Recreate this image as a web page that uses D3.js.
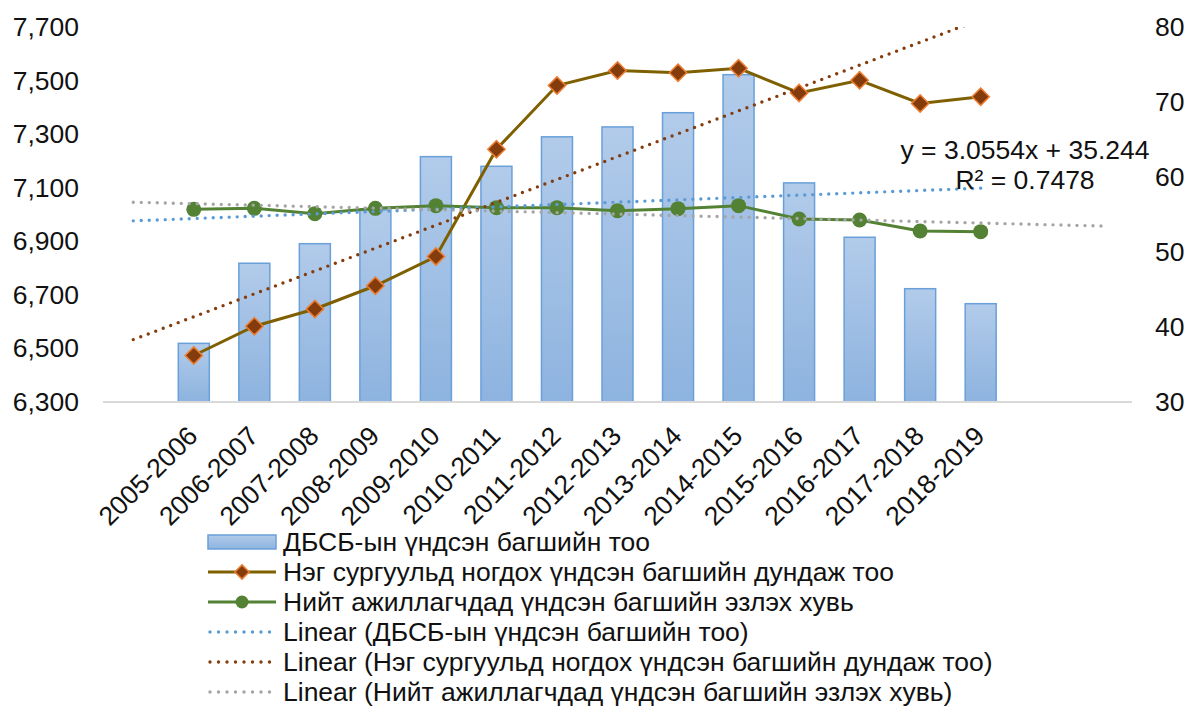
<!DOCTYPE html>
<html>
<head>
<meta charset="utf-8">
<script src="https://cdn.jsdelivr.net/npm/d3@7"></script>
<style>
  body { margin: 0; background: #fff; }
  text { font-family: "Liberation Sans", Arial, sans-serif; fill: #111; }
</style>
</head>
<body>
<svg width="1187" height="706"></svg>
<script>
// Data
var categories = ["2005-2006","2006-2007","2007-2008","2008-2009","2009-2010","2010-2011","2011-2012",
                  "2012-2013","2013-2014","2014-2015","2015-2016","2016-2017","2017-2018","2018-2019"];
var teachers = [6519, 6818, 6891, 7017, 7216, 7180, 7290, 7327, 7380, 7522, 7118, 6915, 6723, 6667];
var perSchool = [36.2, 40.1, 42.4, 45.5, 49.4, 63.7, 72.2, 74.2, 73.9, 74.5, 71.2, 72.9, 69.8, 70.7];
var share = [55.69, 55.82, 55.11, 55.82, 56.18, 55.91, 55.91, 55.51, 55.78, 56.18, 54.4, 54.27, 52.8, 52.71];
var leftTicks = [6300, 6500, 6700, 6900, 7100, 7300, 7500, 7700];
var rightTicks = [30, 40, 50, 60, 70, 80];
var legendLabels = [
  "ДБСБ-ын үндсэн багшийн тоо",
  "Нэг сургуульд ногдох үндсэн багшийн дундаж тоо",
  "Нийт ажиллагчдад үндсэн багшийн эзлэх хувь",
  "Linear (ДБСБ-ын үндсэн багшийн тоо)",
  "Linear (Нэг сургуульд ногдох үндсэн багшийн дундаж тоо)",
  "Linear (Нийт ажиллагчдад үндсэн багшийн эзлэх хувь)"
];
var equationLines = ["y = 3.0554x + 35.244", "R² = 0.7478"];

var svg = d3.select("svg");
var pLeft = 103, pRight = 1132, pTop = 27, pBottom = 402;
var nSlots = 17; // one empty slot before, two after the data

// Scales: slot 0 is empty, data sits in slots 1..14
var x = d3.scaleBand()
  .domain(d3.range(nSlots))
  .range([pLeft, pRight]);
var cx = function(slot){ return x(slot) + x.bandwidth()/2 };

var yL = d3.scaleLinear().domain([6300, 7700]).range([pBottom, pTop]);
var yR = d3.scaleLinear().domain([30, 80]).range([pBottom, pTop]);

// Gradient for bars
var defs = svg.append("defs");
var grad = defs.append("linearGradient").attr("id", "barGrad")
  .attr("x1", 0).attr("y1", 0).attr("x2", 0).attr("y2", 1);
grad.append("stop").attr("offset", "0%").attr("stop-color", "#b2cbea");
grad.append("stop").attr("offset", "100%").attr("stop-color", "#8db3df");

defs.append("clipPath").attr("id", "plotClip")
  .append("rect").attr("x", pLeft).attr("y", pTop).attr("width", pRight - pLeft).attr("height", pBottom - pTop);

// Axes (labels only)
var axL = svg.append("g").attr("transform", "translate(79,0)")
  .call(d3.axisLeft(yL).tickValues(leftTicks).tickSize(0).tickPadding(0).tickFormat(d3.format(",")));
var axR = svg.append("g").attr("transform", "translate(1155,0)")
  .call(d3.axisRight(yR).tickValues(rightTicks).tickSize(0).tickPadding(0));
[axL, axR].forEach(function(g){
  g.select(".domain").remove();
  g.selectAll("text").style("font-size", "26.5px").attr("fill", "#111")
    .style("font-family", "'Liberation Sans', Arial, sans-serif");
});

// Bars
svg.append("g")
  .selectAll("rect")
  .data(teachers)
  .enter()
  .append("rect")
    .attr("x", function(d, i){ return cx(i + 1) - 15.5 })
    .attr("width", 31)
    .attr("y", function(d){ return yL(d) })
    .attr("height", function(d){ return pBottom - yL(d) })
    .attr("fill", "url(#barGrad)")
    .attr("stroke", "#6aa0d9")
    .attr("stroke-width", 1.5);

// Baseline
svg.append("line")
  .attr("x1", pLeft).attr("x2", pRight).attr("y1", pBottom).attr("y2", pBottom)
  .attr("stroke", "#d9d9d9").attr("stroke-width", 2);

// Category labels
svg.append("g")
  .selectAll("text")
  .data(categories)
  .enter()
  .append("text")
    .attr("transform", function(d, i){ return "translate(" + (cx(i + 1) - 8) + ",424) rotate(-45)" })
    .attr("text-anchor", "end")
    .attr("dy", "0.72em")
    .style("font-size", "26.5px")
    .text(function(d){ return d });

// Lines
var lineL = d3.line().x(function(d, i){ return cx(i + 1) });

svg.append("path")
  .attr("d", lineL.y(function(d){ return yR(d) })(perSchool))
  .attr("fill", "none").attr("stroke", "#7f6000").attr("stroke-width", 3);

svg.append("path")
  .attr("d", lineL.y(function(d){ return yR(d) })(share))
  .attr("fill", "none").attr("stroke", "#548235").attr("stroke-width", 3);

var diamond = d3.symbol().type(d3.symbolDiamond2).size(190);

svg.append("g")
  .selectAll("path")
  .data(perSchool)
  .enter()
  .append("path")
    .attr("d", diamond)
    .attr("transform", function(d, i){ return "translate(" + cx(i + 1) + "," + yR(d) + ")" })
    .attr("fill", "#843c0c").attr("stroke", "#ed7d31").attr("stroke-width", 1.5);

svg.append("g")
  .selectAll("circle")
  .data(share)
  .enter()
  .append("circle")
    .attr("cx", function(d, i){ return cx(i + 1) })
    .attr("cy", function(d){ return yR(d) })
    .attr("r", 7.5)
    .attr("fill", "#548235");

// Linear trendlines, x = slot + 1 like Excel
function fit(vals) {
  var xs = vals.map(function(d, i){ return i + 2 });
  var mx = d3.mean(xs), my = d3.mean(vals);
  var sxy = d3.sum(xs, function(xx, i){ return (xx - mx) * (vals[i] - my) });
  var sxx = d3.sum(xs, function(xx){ return (xx - mx) * (xx - mx) });
  var b = sxy / sxx;
  return { b: b, a: my - b * mx };
}

var trends = [
  { vals: teachers, y: yL, color: "#5b9bd5", from: 1, to: 15 },
  { vals: perSchool, y: yR, color: "#843c0c", from: 1, to: 17 },
  { vals: share, y: yR, color: "#a5a5a5", from: 1, to: 17 }
];

var tg = svg.append("g").attr("clip-path", "url(#plotClip)");
trends.forEach(function(t){
  var f = fit(t.vals);
  tg.append("line")
    .attr("x1", cx(t.from - 1)).attr("y1", t.y(f.a + f.b * t.from))
    .attr("x2", cx(t.to - 1)).attr("y2", t.y(f.a + f.b * t.to))
    .attr("stroke", t.color).attr("stroke-width", 3.4)
    .attr("stroke-linecap", "round").attr("stroke-dasharray", "0,8");
});

// Trendline equation
svg.append("g")
  .selectAll("text")
  .data(equationLines)
  .enter()
  .append("text")
    .attr("x", 1025)
    .attr("y", function(d, i){ return 159 + i * 30 })
    .attr("text-anchor", "middle")
    .style("font-size", "26.5px")
    .text(function(d){ return d });

// Legend
var lg = svg.append("g");
var lx0 = 208, lx1 = 276, ly0 = 542, lstep = 30;
var dotColors = ["#5b9bd5", "#843c0c", "#a5a5a5"];

legendLabels.forEach(function(label, i){
  var yy = ly0 + i * lstep;
  if (i === 0) {
    lg.append("rect").attr("x", lx0).attr("y", yy - 7).attr("width", lx1 - lx0).attr("height", 14)
      .attr("fill", "url(#barGrad)").attr("stroke", "#6aa0d9").attr("stroke-width", 1.5);
  } else if (i === 1 || i === 2) {
    var c = i === 1 ? "#7f6000" : "#548235";
    lg.append("line").attr("x1", lx0).attr("x2", lx1).attr("y1", yy).attr("y2", yy)
      .attr("stroke", c).attr("stroke-width", 3);
    if (i === 1) {
      lg.append("path").attr("d", d3.symbol().type(d3.symbolDiamond2).size(130))
        .attr("transform", "translate(" + (lx0 + lx1) / 2 + "," + yy + ")")
        .attr("fill", "#843c0c").attr("stroke", "#ed7d31").attr("stroke-width", 1.5);
    } else {
      lg.append("circle").attr("cx", (lx0 + lx1) / 2).attr("cy", yy).attr("r", 6.5).attr("fill", "#548235");
    }
  } else {
    lg.append("line").attr("x1", lx0 + 2).attr("x2", lx1).attr("y1", yy).attr("y2", yy)
      .attr("stroke", dotColors[i - 3]).attr("stroke-width", 3.4)
      .attr("stroke-linecap", "round").attr("stroke-dasharray", "0,8.5");
  }
  lg.append("text")
    .attr("x", 283).attr("y", yy).attr("dy", "0.35em")
    .style("font-size", "26.5px")
    .text(label);
});
</script>
</body>
</html>
